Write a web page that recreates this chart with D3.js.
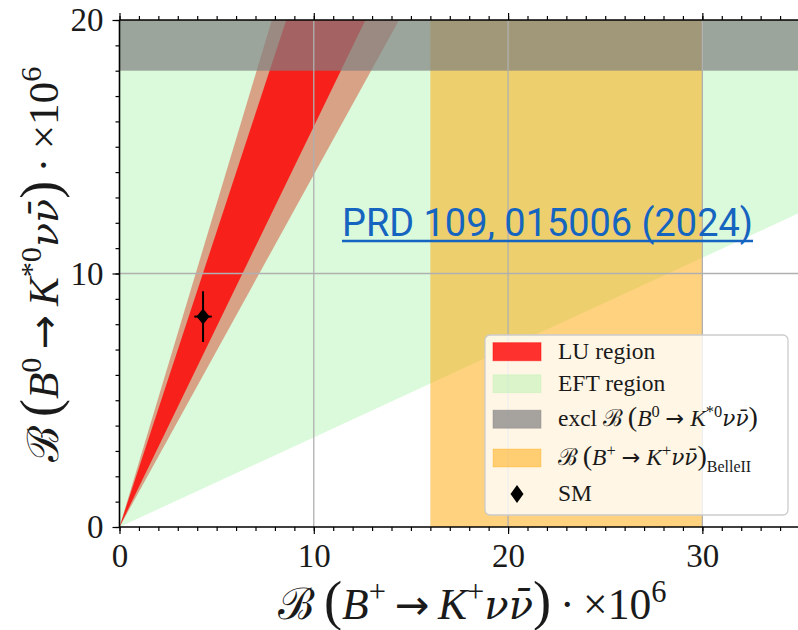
<!DOCTYPE html>
<html>
<head>
<meta charset="utf-8">
<script src="https://cdn.jsdelivr.net/npm/d3@7"></script>
<style>
  body { margin: 0; background: #fff; }
  svg { display: block; }
</style>
</head>
<body>
<div id="chart"></div>
<script>
// Axis ranges and ticks (branching ratios in units of 1e-6)
const xDomain = [0, 35];
const yDomain = [0, 20];
const xMajorTicks = [0, 10, 20, 30];
const yMajorTicks = [0, 10, 20];
const xMinorTicks = d3.range(0, 36, 1);
const yMinorTicks = d3.range(0, 21, 1);

// EFT-allowed wedge: everything above y = eftSlope * x
const eftSlope = 0.354;
// Lepton-universality wedge: ratio B(K*0)/B(K+) bounds
const luOuterSlopes = [1.39, 2.55];
const luInnerSlopes = [1.58, 2.33];
// Excluded B(B0 -> K*0 nu nubar) band
const exclK0Band = [18, 20];
// Belle II B(B+ -> K+ nu nubar) band
const belleBand = [16, 30];
// Standard Model point and its errors
const smPoint = [4.3, 8.3];
const smErrors = [0.45, 1.0];

const W = 798, H = 630;
const margin = { left: 119.5, right: 799.5, top: 20, bottom: 527 };

const x = d3.scaleLinear().domain(xDomain).range([margin.left, margin.right]);
const y = d3.scaleLinear().domain(yDomain).range([margin.bottom, margin.top]);

const serif = "'Liberation Serif', 'DejaVu Serif', serif";
const mathFont = "'DejaVu Serif', serif";
const arrowFont = "'DejaVu Sans', sans-serif";

const svg = d3.select("#chart").append("svg")
  .attr("width", W).attr("height", H)
  .attr("font-family", serif);

svg.append("defs").append("clipPath").attr("id", "plotclip")
  .append("rect")
  .attr("x", margin.left).attr("y", margin.top)
  .attr("width", margin.right - margin.left)
  .attr("height", margin.bottom - margin.top);

const plot = svg.append("g").attr("clip-path", "url(#plotclip)");
const line = d3.line().x(d => x(d[0])).y(d => y(d[1]));

const colors = {
  eft: "rgb(144,238,144)", eftAlpha: 0.32,
  belle: "orange", belleAlpha: 0.5,
  luOuter: "rgb(214,140,112)", luOuterAlpha: 0.8,
  luInner: "rgb(255,0,0)", luInnerAlpha: 0.8,
  excl: "rgb(128,128,128)", exclAlpha: 0.7
};

// EFT region
const xMax = xDomain[1];
const yMax = yDomain[1];
plot.append("path")
  .attr("d", line([[0, 0], [xMax, eftSlope * xMax], [xMax, yMax], [0, yMax]]) + "Z")
  .attr("fill", colors.eft).attr("fill-opacity", colors.eftAlpha);

// Belle II band
plot.append("rect")
  .attr("x", x(belleBand[0])).attr("width", x(belleBand[1]) - x(belleBand[0]))
  .attr("y", y(yMax)).attr("height", y(0) - y(yMax))
  .attr("fill", colors.belle).attr("fill-opacity", colors.belleAlpha);

// LU wedges (outer uncertainty band, then central band)
function wedge(slopes) {
  const [sLo, sHi] = slopes;
  return line([[0, 0], [yMax / sLo, yMax], [yMax / sHi, yMax]]) + "Z";
}
plot.append("path").attr("d", wedge(luOuterSlopes))
  .attr("fill", colors.luOuter).attr("fill-opacity", colors.luOuterAlpha);
plot.append("path").attr("d", wedge(luInnerSlopes))
  .attr("fill", colors.luInner).attr("fill-opacity", colors.luInnerAlpha);

// Excluded B0 band
plot.append("rect")
  .attr("x", x(0)).attr("width", x(xMax) - x(0))
  .attr("y", y(exclK0Band[1])).attr("height", y(exclK0Band[0]) - y(exclK0Band[1]))
  .attr("fill", colors.excl).attr("fill-opacity", colors.exclAlpha);

// Grid
const grid = svg.append("g").attr("stroke", "#b0b0b0").attr("stroke-width", 1.3);
xMajorTicks.filter(v => v > 0).forEach(v => {
  grid.append("line").attr("x1", x(v)).attr("x2", x(v))
    .attr("y1", margin.top).attr("y2", margin.bottom);
});
yMajorTicks.filter(v => v > 0 && v < yMax).forEach(v => {
  grid.append("line").attr("x1", margin.left).attr("x2", margin.right)
    .attr("y1", y(v)).attr("y2", y(v));
});

// SM point with error bars
const sm = svg.append("g");
sm.append("line")
  .attr("x1", x(smPoint[0])).attr("x2", x(smPoint[0]))
  .attr("y1", y(smPoint[1] - smErrors[1])).attr("y2", y(smPoint[1] + smErrors[1]))
  .attr("stroke", "#000").attr("stroke-width", 2);
sm.append("line")
  .attr("x1", x(smPoint[0] - smErrors[0])).attr("x2", x(smPoint[0] + smErrors[0]))
  .attr("y1", y(smPoint[1])).attr("y2", y(smPoint[1]))
  .attr("stroke", "#000").attr("stroke-width", 2);
function diamondPath(cx, cy, hw, hh) {
  return `M${cx},${cy - hh}L${cx + hw},${cy}L${cx},${cy + hh}L${cx - hw},${cy}Z`;
}
sm.append("path").attr("d", diamondPath(x(smPoint[0]), y(smPoint[1]), 6.5, 8))
  .attr("fill", "#000");

// Axes: minor ticks
const tickStyle = g => {
  g.select(".domain").remove();
  g.selectAll(".tick line").attr("stroke", "#000").attr("stroke-width", 1.2);
  g.selectAll(".tick text").attr("font-family", serif).attr("font-size", 33).attr("fill", "#1a1a1a");
};
svg.append("g").attr("transform", `translate(0,${margin.bottom})`)
  .call(d3.axisBottom(x).tickValues(xMinorTicks).tickSize(4).tickFormat(""))
  .call(tickStyle);
svg.append("g").attr("transform", `translate(0,${margin.top})`)
  .call(d3.axisTop(x).tickValues(xMinorTicks).tickSize(4).tickFormat(""))
  .call(tickStyle);
svg.append("g").attr("transform", `translate(${margin.left},0)`)
  .call(d3.axisLeft(y).tickValues(yMinorTicks).tickSize(4).tickFormat(""))
  .call(tickStyle);

// Axes: major ticks and labels
svg.append("g").attr("transform", `translate(0,${margin.bottom})`)
  .call(d3.axisBottom(x).tickValues(xMajorTicks).tickSize(7).tickPadding(10).tickFormat(d3.format("d")))
  .call(tickStyle);
svg.append("g").attr("transform", `translate(0,${margin.top})`)
  .call(d3.axisTop(x).tickValues(xMajorTicks).tickSize(7).tickFormat(""))
  .call(tickStyle);
svg.append("g").attr("transform", `translate(${margin.left},0)`)
  .call(d3.axisLeft(y).tickValues(yMajorTicks).tickSize(7).tickPadding(9).tickFormat(d3.format("d")))
  .call(tickStyle);

// Spines
const spines = svg.append("g").attr("stroke", "#000").attr("stroke-width", 1.6);
spines.append("line").attr("x1", margin.left).attr("x2", margin.right)
  .attr("y1", margin.bottom).attr("y2", margin.bottom);
spines.append("line").attr("x1", margin.left).attr("x2", margin.right)
  .attr("y1", margin.top).attr("y2", margin.top);
spines.append("line").attr("x1", margin.left).attr("x2", margin.left)
  .attr("y1", margin.top).attr("y2", margin.bottom);

// Math-like text builder: parts carry italic / sup / sub / scale / font flags
function mathText(text, parts, fs) {
  let cur = 0;
  parts.forEach(p => {
    const ts = text.append("tspan").text(p.t);
    const size = fs * (p.scale || 1);
    ts.attr("font-size", size);
    if (p.it) ts.attr("font-style", "italic");
    if (p.font) ts.attr("font-family", p.font);
    const shift = p.sup ? -0.40 * fs : (p.sub ? 0.28 * fs : 0);
    ts.attr("dy", shift - cur);
    cur = shift;
  });
  if (cur !== 0) text.append("tspan").text("\u200a").attr("dy", -cur);
}
const S = "\u2009";
const M = "\u2005";
const nunubar = "\u03bd\u03bd\u0304";

function decayParts(parent, daughter, parenScale, gap) {
  return [
    { t: "\u212c", font: mathFont }, { t: S }, { t: "(", scale: parenScale },
    { t: "B", it: true }, { t: parent, sup: true, scale: 0.7 },
    { t: gap }, { t: "\u2192", font: arrowFont, scale: 0.95 }, { t: gap },
    { t: "K", it: true }, { t: daughter, sup: true, scale: 0.7 },
    { t: nunubar, it: true, font: mathFont, scale: 0.92 }, { t: ")", scale: parenScale }
  ];
}
const xLabelParts = decayParts("+", "+", 1.25, S).concat([
  { t: S + "\u00b7" + S + "\u00d710" }, { t: "6", sup: true, scale: 0.7 }
]);
const yLabelParts = decayParts("0", "*0", 1.25, S).concat([
  { t: S + "\u00b7" + S + "\u00d710" }, { t: "6", sup: true, scale: 0.7 }
]);

function fitText(sel, targetWidth) {
  const w = sel.node().getBBox().width;
  return targetWidth / w;
}

// X axis title
const xTitle = svg.append("text").attr("x", 473).attr("y", 619)
  .attr("text-anchor", "middle").attr("fill", "#1a1a1a");
mathText(xTitle, xLabelParts, 32);
{
  const k = fitText(xTitle, 390);
  xTitle.selectAll("*").remove();
  mathText(xTitle, xLabelParts, 32 * k);
}

// Y axis title
const yTitle = svg.append("text")
  .attr("transform", "translate(58,263.5) rotate(-90)")
  .attr("text-anchor", "middle").attr("fill", "#1a1a1a");
mathText(yTitle, yLabelParts, 32);
{
  const k = fitText(yTitle, 397);
  yTitle.selectAll("*").remove();
  mathText(yTitle, yLabelParts, 32 * k);
}

// Reference text
const ref = svg.append("text").attr("x", 342).attr("y", 236)
  .attr("font-family", "Roboto, 'Noto Sans', sans-serif")
  .attr("font-size", 38).attr("fill", "#1565c0")
  .text("PRD 109, 015006 (2024)");
{
  const k = fitText(ref, 411);
  ref.attr("font-size", 38 * k);
}
svg.append("line").attr("x1", 342).attr("x2", 753).attr("y1", 241).attr("y2", 241)
  .attr("stroke", "#1565c0").attr("stroke-width", 2.5);

// Legend
const legend = svg.append("g");
legend.append("rect")
  .attr("x", 485).attr("y", 335).attr("width", 303).attr("height", 180)
  .attr("rx", 5).attr("fill", "#fff").attr("fill-opacity", 0.8)
  .attr("stroke", "#cccccc").attr("stroke-width", 1.3);

const legendItems = [
  { kind: "patch", fill: colors.luInner, alpha: colors.luInnerAlpha, cy: 351.7,
    parts: [{ t: "LU region" }] },
  { kind: "patch", fill: colors.eft, alpha: colors.eftAlpha, cy: 383.7,
    parts: [{ t: "EFT region" }] },
  { kind: "patch", fill: colors.excl, alpha: colors.exclAlpha, cy: 419.2,
    parts: [{ t: "excl" }, { t: " " }].concat(decayParts("0", "*0", 1.2, M)) },
  { kind: "patch", fill: colors.belle, alpha: colors.belleAlpha, cy: 458,
    parts: decayParts("+", "+", 1.2, M).concat([{ t: "BelleII", sub: true, scale: 0.68 }]) },
  { kind: "marker", cy: 494, parts: [{ t: "SM" }] }
];
legendItems.forEach(item => {
  if (item.kind === "patch") {
    legend.append("rect")
      .attr("x", 493).attr("y", item.cy - 9).attr("width", 48).attr("height", 18)
      .attr("fill", item.fill).attr("fill-opacity", item.alpha)
      .attr("stroke", item.fill).attr("stroke-opacity", item.alpha * 0.6).attr("stroke-width", 1);
  } else {
    legend.append("path").attr("d", diamondPath(517, item.cy, 6.5, 9)).attr("fill", "#000");
  }
  const t = legend.append("text").attr("x", 558).attr("y", item.cy + 7).attr("fill", "#1a1a1a");
  mathText(t, item.parts, 23.5);
});
</script>
</body>
</html>
